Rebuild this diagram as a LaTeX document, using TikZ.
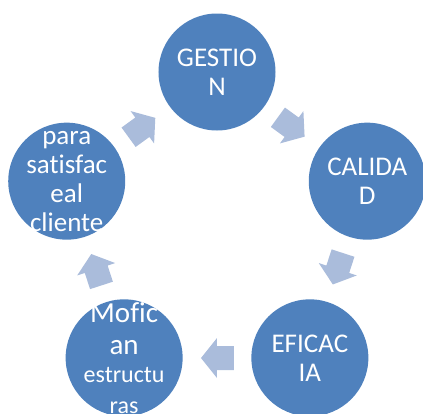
\documentclass[tikz,border=0pt]{standalone}
\usepackage{fontspec}
\setmainfont{Carlito}[Ligatures=NoCommon]
\usepackage{xcolor}
\usepackage{tikz}
\definecolor{circblue}{RGB}{79,129,189}
\definecolor{arrowblue}{RGB}{170,188,219}

\begin{document}
\begin{tikzpicture}[x=1pt,y=1pt,
		stage/.style={circle,fill=circblue,minimum size=117pt,inner sep=0pt},
		stagetext/.style={text=white,align=center,font=\fontsize{27}{29}\selectfont},
		cyc arrow/.pic={\fill[arrowblue] (-17,-12) -- (0,-12) -- (0,-20) -- (16,0) -- (0,20) -- (0,12) -- (-17,12) -- cycle;}]
		\useasboundingbox (-217,-183) rectangle (206,230);
		% the five stages
		\node[stage] (gestion) at (90:158) {};
		\node[stage] (calidad) at (18:158) {};
		\node[stage] (eficacia) at (-54:158) {};
		\node[stage] (mofic) at (-126:158) {};
		\node[stage] (cliente) at (162:158) {};
		\node[stagetext] (gestiontext) at (gestion) {GESTIO\\N};
		\node[stagetext] (calidadtext) at (calidad) {CALIDA\\D};
		\node[stagetext] (eficaciatext) at (eficacia) {EFICAC\\IA};
		\node[stagetext,font=\fontsize{29}{32}\selectfont] (mofictext) at (mofic) {Mofic\\an\\[-4pt]{\fontsize{24}{28}\selectfont estructu}\\[-1pt]{\fontsize{24}{28}\selectfont ras}};
		\node[stagetext] (clientetext) at (cliente) {para\\satisfac\\eal\\cliente};
		% arrows between the stages
		\pic[rotate=-36] at (54:127) {cyc arrow};
		\pic[rotate=-108] at (-18:127) {cyc arrow};
		\pic[rotate=180] at (-90:128) {cyc arrow};
		\pic[rotate=108] at (-162:127) {cyc arrow};
		\pic[rotate=36] at (126:127) {cyc arrow};
\end{tikzpicture}
\end{document}
